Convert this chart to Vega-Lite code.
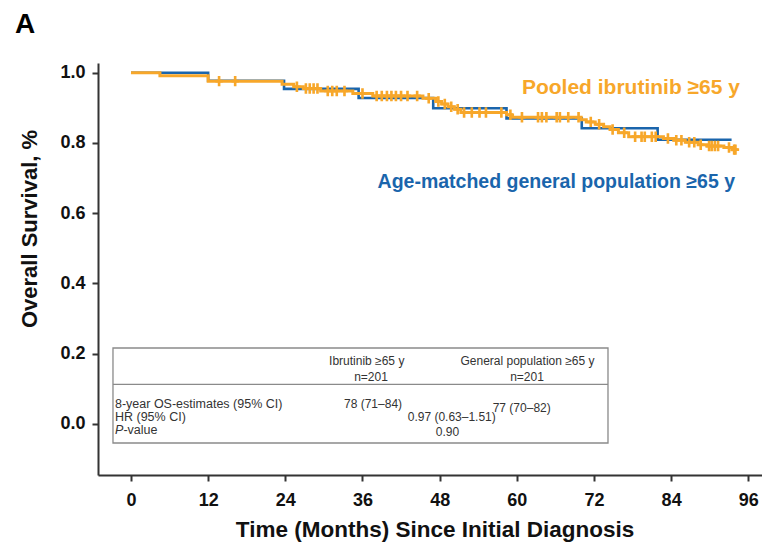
{
  "$schema": "https://vega.github.io/schema/vega-lite/v6.json",
  "width": 664,
  "height": 412,
  "autosize": {"type": "none"},
  "padding": {"left": 98, "top": 63, "right": 0, "bottom": 68},
  "background": "white",
  "config": {"view": {"stroke": null}, "font": "Liberation Sans"},
  "title": {"text": "A", "anchor": "start", "frame": "group", "dx": -83, "offset": 2, "baseline": "alphabetic", "font": "Liberation Sans", "fontSize": 28, "fontWeight": "bold", "color": "#000"},
  "datasets": {
    "km": [
      {"group": "General", "t": 0, "s": 1.0},
      {"group": "General", "t": 12, "s": 0.977},
      {"group": "General", "t": 23.8, "s": 0.954},
      {"group": "General", "t": 35.4, "s": 0.928},
      {"group": "General", "t": 47, "s": 0.899},
      {"group": "General", "t": 58.4, "s": 0.870},
      {"group": "General", "t": 70.1, "s": 0.842},
      {"group": "General", "t": 81.9, "s": 0.809},
      {"group": "General", "t": 93.4, "s": 0.809},
      {"group": "Ibrutinib", "t": 0, "s": 1.0},
      {"group": "Ibrutinib", "t": 4.5, "s": 0.991},
      {"group": "Ibrutinib", "t": 12, "s": 0.976},
      {"group": "Ibrutinib", "t": 23.5, "s": 0.967},
      {"group": "Ibrutinib", "t": 25.3, "s": 0.960},
      {"group": "Ibrutinib", "t": 26.8, "s": 0.955},
      {"group": "Ibrutinib", "t": 29.5, "s": 0.948},
      {"group": "Ibrutinib", "t": 34.5, "s": 0.941},
      {"group": "Ibrutinib", "t": 37.6, "s": 0.934},
      {"group": "Ibrutinib", "t": 45.4, "s": 0.927},
      {"group": "Ibrutinib", "t": 47.4, "s": 0.918},
      {"group": "Ibrutinib", "t": 48.3, "s": 0.911},
      {"group": "Ibrutinib", "t": 49.3, "s": 0.903},
      {"group": "Ibrutinib", "t": 50.3, "s": 0.896},
      {"group": "Ibrutinib", "t": 51.3, "s": 0.887},
      {"group": "Ibrutinib", "t": 58.4, "s": 0.880},
      {"group": "Ibrutinib", "t": 59.2, "s": 0.873},
      {"group": "Ibrutinib", "t": 70.0, "s": 0.866},
      {"group": "Ibrutinib", "t": 70.8, "s": 0.860},
      {"group": "Ibrutinib", "t": 72.2, "s": 0.853},
      {"group": "Ibrutinib", "t": 73.5, "s": 0.846},
      {"group": "Ibrutinib", "t": 74.5, "s": 0.838},
      {"group": "Ibrutinib", "t": 75.8, "s": 0.829},
      {"group": "Ibrutinib", "t": 77.4, "s": 0.818},
      {"group": "Ibrutinib", "t": 82.8, "s": 0.813},
      {"group": "Ibrutinib", "t": 84.4, "s": 0.808},
      {"group": "Ibrutinib", "t": 86.2, "s": 0.802},
      {"group": "Ibrutinib", "t": 88.2, "s": 0.795},
      {"group": "Ibrutinib", "t": 89.6, "s": 0.791},
      {"group": "Ibrutinib", "t": 92.2, "s": 0.787},
      {"group": "Ibrutinib", "t": 93.5, "s": 0.781},
      {"group": "Ibrutinib", "t": 94.0, "s": 0.781}
    ],
    "censor": [
      {"group": "Ibrutinib", "t": 13.7, "s": 0.976},
      {"group": "Ibrutinib", "t": 16.2, "s": 0.976},
      {"group": "Ibrutinib", "t": 25.8, "s": 0.960},
      {"group": "Ibrutinib", "t": 27.2, "s": 0.955},
      {"group": "Ibrutinib", "t": 27.8, "s": 0.955},
      {"group": "Ibrutinib", "t": 28.4, "s": 0.955},
      {"group": "Ibrutinib", "t": 29.0, "s": 0.955},
      {"group": "Ibrutinib", "t": 30.6, "s": 0.948},
      {"group": "Ibrutinib", "t": 31.3, "s": 0.948},
      {"group": "Ibrutinib", "t": 32.0, "s": 0.948},
      {"group": "Ibrutinib", "t": 33.2, "s": 0.948},
      {"group": "Ibrutinib", "t": 36.0, "s": 0.941},
      {"group": "Ibrutinib", "t": 38.2, "s": 0.934},
      {"group": "Ibrutinib", "t": 39.0, "s": 0.934},
      {"group": "Ibrutinib", "t": 39.8, "s": 0.934},
      {"group": "Ibrutinib", "t": 40.5, "s": 0.934},
      {"group": "Ibrutinib", "t": 41.2, "s": 0.934},
      {"group": "Ibrutinib", "t": 42.0, "s": 0.934},
      {"group": "Ibrutinib", "t": 43.0, "s": 0.934},
      {"group": "Ibrutinib", "t": 44.5, "s": 0.934},
      {"group": "Ibrutinib", "t": 46.3, "s": 0.927},
      {"group": "Ibrutinib", "t": 47.8, "s": 0.918},
      {"group": "Ibrutinib", "t": 48.8, "s": 0.911},
      {"group": "Ibrutinib", "t": 49.8, "s": 0.903},
      {"group": "Ibrutinib", "t": 50.8, "s": 0.896},
      {"group": "Ibrutinib", "t": 51.8, "s": 0.887},
      {"group": "Ibrutinib", "t": 53.0, "s": 0.887},
      {"group": "Ibrutinib", "t": 54.2, "s": 0.887},
      {"group": "Ibrutinib", "t": 55.2, "s": 0.887},
      {"group": "Ibrutinib", "t": 57.6, "s": 0.887},
      {"group": "Ibrutinib", "t": 59.0, "s": 0.880},
      {"group": "Ibrutinib", "t": 60.8, "s": 0.873},
      {"group": "Ibrutinib", "t": 63.3, "s": 0.873},
      {"group": "Ibrutinib", "t": 63.9, "s": 0.873},
      {"group": "Ibrutinib", "t": 64.6, "s": 0.873},
      {"group": "Ibrutinib", "t": 66.2, "s": 0.873},
      {"group": "Ibrutinib", "t": 66.7, "s": 0.873},
      {"group": "Ibrutinib", "t": 68.0, "s": 0.873},
      {"group": "Ibrutinib", "t": 69.6, "s": 0.873},
      {"group": "Ibrutinib", "t": 71.5, "s": 0.860},
      {"group": "Ibrutinib", "t": 72.8, "s": 0.853},
      {"group": "Ibrutinib", "t": 74.9, "s": 0.838},
      {"group": "Ibrutinib", "t": 76.7, "s": 0.829},
      {"group": "Ibrutinib", "t": 78.4, "s": 0.818},
      {"group": "Ibrutinib", "t": 79.4, "s": 0.818},
      {"group": "Ibrutinib", "t": 79.9, "s": 0.818},
      {"group": "Ibrutinib", "t": 81.0, "s": 0.818},
      {"group": "Ibrutinib", "t": 81.6, "s": 0.818},
      {"group": "Ibrutinib", "t": 83.5, "s": 0.813},
      {"group": "Ibrutinib", "t": 84.8, "s": 0.808},
      {"group": "Ibrutinib", "t": 85.6, "s": 0.808},
      {"group": "Ibrutinib", "t": 86.8, "s": 0.802},
      {"group": "Ibrutinib", "t": 87.6, "s": 0.802},
      {"group": "Ibrutinib", "t": 88.6, "s": 0.795},
      {"group": "Ibrutinib", "t": 89.9, "s": 0.791},
      {"group": "Ibrutinib", "t": 90.3, "s": 0.791},
      {"group": "Ibrutinib", "t": 90.8, "s": 0.791},
      {"group": "Ibrutinib", "t": 91.3, "s": 0.791},
      {"group": "Ibrutinib", "t": 93.0, "s": 0.787},
      {"group": "Ibrutinib", "t": 93.8, "s": 0.781},
      {"group": "Ibrutinib", "t": 94.0, "s": 0.781}
    ],
    "legend": [
      {"group": "Ibrutinib", "label": "Pooled ibrutinib ≥65 y", "t": 94.71, "s": 0.9394},
      {"group": "General", "label": "Age-matched general population ≥65 y", "t": 93.93, "s": 0.6718}
    ],
    "box": [{"x1": -2.80, "x2": 74.18, "y1": -0.0541, "y2": 0.2163, "ym": 0.1130}],
    "table": [
      {"label": "Ibrutinib ≥65 y", "tx": 36.66, "ty": 0.178, "kind": "center"},
      {"label": "n=201", "tx": 37.33, "ty": 0.134, "kind": "center"},
      {"label": "General population ≥65 y", "tx": 61.66, "ty": 0.178, "kind": "center"},
      {"label": "n=201", "tx": 61.59, "ty": 0.134, "kind": "center"},
      {"label": "78 (71–84)", "tx": 37.64, "ty": 0.0569, "kind": "center"},
      {"label": "77 (70–82)", "tx": 60.76, "ty": 0.0455, "kind": "center"},
      {"label": "0.97 (0.63–1.51)", "tx": 49.88, "ty": 0.0199, "kind": "center"},
      {"label": "0.90", "tx": 49.22, "ty": -0.0228, "kind": "center"},
      {"label": "8-year OS-estimates (95% CI)", "tx": -2.49, "ty": 0.0569, "kind": "left"},
      {"label": "HR (95% CI)", "tx": -2.49, "ty": 0.0199, "kind": "left"},
      {"label": "P", "tx": -2.49, "ty": -0.0171, "kind": "italic"},
      {"label": "-value", "tx": -2.49, "ty": -0.0171, "kind": "suffix"}
    ]
  },
  "layer": [
    {
      "data": {"name": "box"},
      "mark": {"type": "rect", "fill": "white", "stroke": "#8a8a8a", "strokeWidth": 1.3},
      "encoding": {
        "x": {"field": "x1", "type": "quantitative", "scale": {"domain": [-5.13, 98.13], "nice": false, "zero": false},
          "axis": {"values": [0, 12, 24, 36, 48, 60, 72, 84, 96], "title": "Time (Months) Since Initial Diagnosis", "grid": false,
            "domainColor": "#333", "domainWidth": 2, "tickColor": "#333", "tickWidth": 2, "tickSize": 6,
            "labelFont": "Liberation Sans", "labelFontSize": 18, "labelFontWeight": "bold", "labelColor": "#111", "labelPadding": 10, "labelFlush": false,
            "titleFont": "Liberation Sans", "titleFontSize": 22.5, "titleFontWeight": "bold", "titleColor": "#111",
            "titleX": 336.5, "titleY": 61, "titleBaseline": "alphabetic", "titleAlign": "center"}},
        "x2": {"field": "x2"},
        "y": {"field": "y1", "type": "quantitative", "scale": {"domain": [-0.1452, 1.0276], "nice": false, "zero": false},
          "axis": {"values": [0, 0.2, 0.4, 0.6, 0.8, 1.0], "format": ".1f", "title": "Overall Survival, %", "grid": false,
            "domainColor": "#333", "domainWidth": 2, "tickColor": "#333", "tickWidth": 2, "tickSize": 6,
            "labelFont": "Liberation Sans", "labelFontSize": 18, "labelFontWeight": "bold", "labelColor": "#111", "labelPadding": 7, "labelFlush": false,
            "titleFont": "Liberation Sans", "titleFontSize": 22, "titleFontWeight": "bold", "titleColor": "#111",
            "titleAngle": -90, "titleX": -68.5, "titleY": 165.5, "titleBaseline": "middle", "titleAlign": "center"}},
        "y2": {"field": "y2"}
      }
    },
    {
      "data": {"name": "box"},
      "mark": {"type": "rule", "stroke": "#8a8a8a", "strokeWidth": 1.3},
      "encoding": {
        "x": {"field": "x1", "type": "quantitative", "scale": {"domain": [-5.13, 98.13], "nice": false, "zero": false}},
        "x2": {"field": "x2"},
        "y": {"field": "ym", "type": "quantitative", "scale": {"domain": [-0.1452, 1.0276], "nice": false, "zero": false}}
      }
    },
    {
      "data": {"name": "km"},
      "transform": [{"filter": "datum.group === 'General'"}],
      "mark": {"type": "line", "interpolate": "step-after", "strokeWidth": 2.6},
      "encoding": {
        "x": {"field": "t", "type": "quantitative", "scale": {"domain": [-5.13, 98.13], "nice": false, "zero": false}},
        "y": {"field": "s", "type": "quantitative", "scale": {"domain": [-0.1452, 1.0276], "nice": false, "zero": false}},
        "color": {"field": "group", "type": "nominal", "scale": {"domain": ["Ibrutinib", "General"], "range": ["#F7A72A", "#1A65AC"]}, "legend": null}
      }
    },
    {
      "data": {"name": "km"},
      "transform": [{"filter": "datum.group === 'Ibrutinib'"}],
      "mark": {"type": "line", "interpolate": "step-after", "strokeWidth": 3},
      "encoding": {
        "x": {"field": "t", "type": "quantitative", "scale": {"domain": [-5.13, 98.13], "nice": false, "zero": false}},
        "y": {"field": "s", "type": "quantitative", "scale": {"domain": [-0.1452, 1.0276], "nice": false, "zero": false}},
        "color": {"field": "group", "type": "nominal", "scale": {"domain": ["Ibrutinib", "General"], "range": ["#F7A72A", "#1A65AC"]}, "legend": null}
      }
    },
    {
      "data": {"name": "censor"},
      "mark": {"type": "point", "filled": true, "opacity": 1, "size": 110, "strokeWidth": 0,
        "shape": "M-0.25,-1H0.25V-0.25H0.7V0.25H0.25V1H-0.25V0.25H-0.7V-0.25H-0.25Z"},
      "encoding": {
        "x": {"field": "t", "type": "quantitative", "scale": {"domain": [-5.13, 98.13], "nice": false, "zero": false}},
        "y": {"field": "s", "type": "quantitative", "scale": {"domain": [-0.1452, 1.0276], "nice": false, "zero": false}},
        "color": {"field": "group", "type": "nominal", "scale": {"domain": ["Ibrutinib", "General"], "range": ["#F7A72A", "#1A65AC"]}, "legend": null}
      }
    },
    {
      "data": {"name": "legend"},
      "transform": [{"filter": "datum.group === 'Ibrutinib'"}],
      "mark": {"type": "text", "align": "right", "baseline": "alphabetic", "font": "Liberation Sans", "fontSize": 21, "fontWeight": "bold"},
      "encoding": {
        "x": {"field": "t", "type": "quantitative", "scale": {"domain": [-5.13, 98.13], "nice": false, "zero": false}},
        "y": {"field": "s", "type": "quantitative", "scale": {"domain": [-0.1452, 1.0276], "nice": false, "zero": false}},
        "text": {"field": "label"},
        "color": {"field": "group", "type": "nominal", "scale": {"domain": ["Ibrutinib", "General"], "range": ["#F7A72A", "#1A65AC"]}, "legend": null}
      }
    },
    {
      "data": {"name": "legend"},
      "transform": [{"filter": "datum.group === 'General'"}],
      "mark": {"type": "text", "align": "right", "baseline": "alphabetic", "font": "Liberation Sans", "fontSize": 19.5, "fontWeight": "bold"},
      "encoding": {
        "x": {"field": "t", "type": "quantitative", "scale": {"domain": [-5.13, 98.13], "nice": false, "zero": false}},
        "y": {"field": "s", "type": "quantitative", "scale": {"domain": [-0.1452, 1.0276], "nice": false, "zero": false}},
        "text": {"field": "label"},
        "color": {"field": "group", "type": "nominal", "scale": {"domain": ["Ibrutinib", "General"], "range": ["#F7A72A", "#1A65AC"]}, "legend": null}
      }
    },
    {
      "data": {"name": "table"},
      "transform": [{"filter": "datum.kind === 'center'"}],
      "mark": {"type": "text", "align": "center", "baseline": "middle", "font": "Liberation Sans", "fontSize": 12, "color": "#333"},
      "encoding": {
        "x": {"field": "tx", "type": "quantitative", "scale": {"domain": [-5.13, 98.13], "nice": false, "zero": false}},
        "y": {"field": "ty", "type": "quantitative", "scale": {"domain": [-0.1452, 1.0276], "nice": false, "zero": false}},
        "text": {"field": "label"}
      }
    },
    {
      "data": {"name": "table"},
      "transform": [{"filter": "datum.kind === 'left'"}],
      "mark": {"type": "text", "align": "left", "baseline": "middle", "font": "Liberation Sans", "fontSize": 12.5, "color": "#333"},
      "encoding": {
        "x": {"field": "tx", "type": "quantitative", "scale": {"domain": [-5.13, 98.13], "nice": false, "zero": false}},
        "y": {"field": "ty", "type": "quantitative", "scale": {"domain": [-0.1452, 1.0276], "nice": false, "zero": false}},
        "text": {"field": "label"}
      }
    },
    {
      "data": {"name": "table"},
      "transform": [{"filter": "datum.kind === 'italic'"}],
      "mark": {"type": "text", "align": "left", "baseline": "middle", "font": "Liberation Sans", "fontSize": 12.5, "fontStyle": "italic", "color": "#333"},
      "encoding": {
        "x": {"field": "tx", "type": "quantitative", "scale": {"domain": [-5.13, 98.13], "nice": false, "zero": false}},
        "y": {"field": "ty", "type": "quantitative", "scale": {"domain": [-0.1452, 1.0276], "nice": false, "zero": false}},
        "text": {"field": "label"}
      }
    },
    {
      "data": {"name": "table"},
      "transform": [{"filter": "datum.kind === 'suffix'"}],
      "mark": {"type": "text", "align": "left", "baseline": "middle", "dx": 8.4, "font": "Liberation Sans", "fontSize": 12.5, "color": "#333"},
      "encoding": {
        "x": {"field": "tx", "type": "quantitative", "scale": {"domain": [-5.13, 98.13], "nice": false, "zero": false}},
        "y": {"field": "ty", "type": "quantitative", "scale": {"domain": [-0.1452, 1.0276], "nice": false, "zero": false}},
        "text": {"field": "label"}
      }
    }
  ]
}
